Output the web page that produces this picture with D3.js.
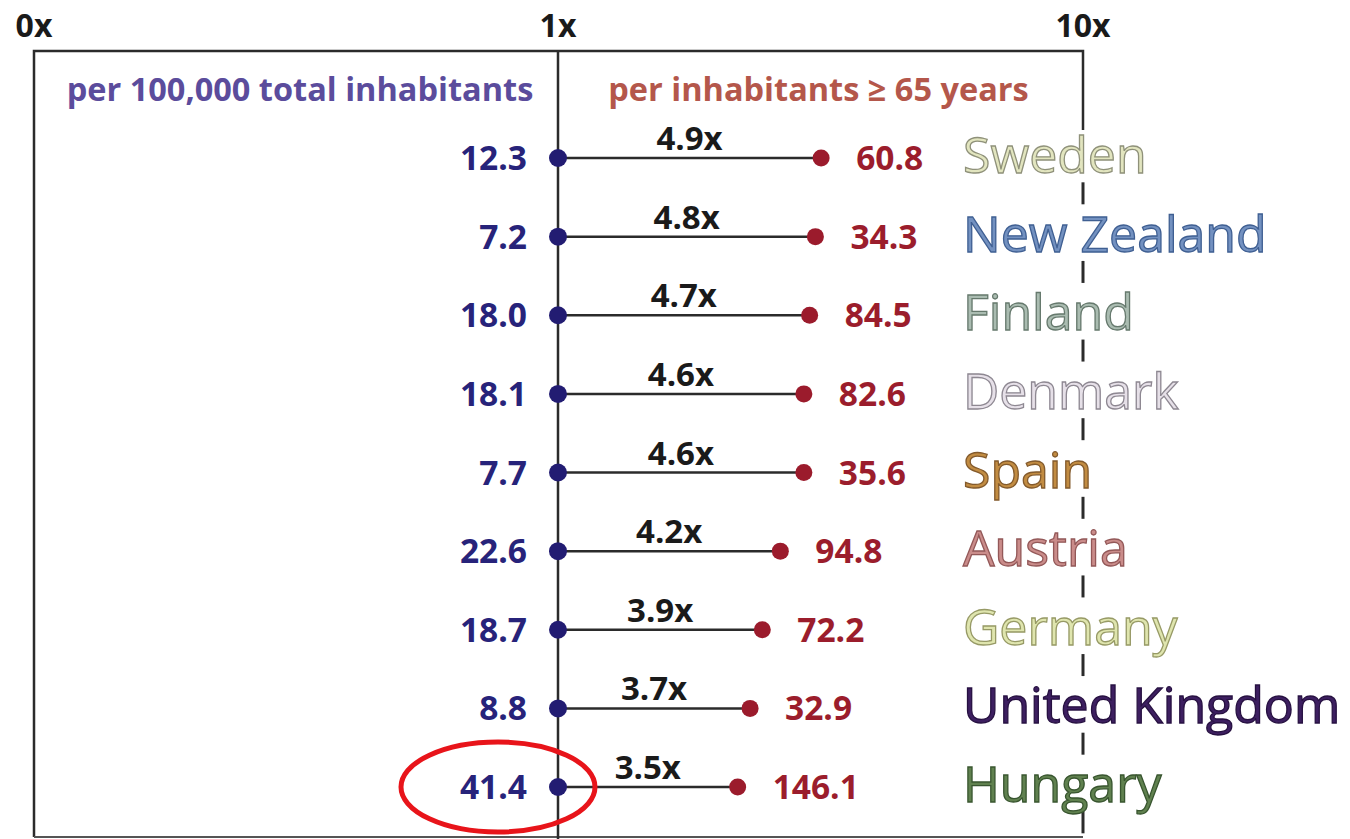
<!DOCTYPE html>
<html>
<head>
<meta charset="utf-8">
<script src="https://cdn.jsdelivr.net/npm/d3@7"></script>
<style>
  body { margin: 0; background: #fff; }
  svg { display: block; font-family: "Open Sans", sans-serif; }
</style>
</head>
<body>
<div id="plot"></div>
<script>
// values, top to bottom
const countries = ["Sweden", "New Zealand", "Finland", "Denmark", "Spain", "Austria", "Germany", "United Kingdom", "Hungary"];
const perTotal = ["12.3", "7.2", "18.0", "18.1", "7.7", "22.6", "18.7", "8.8", "41.4"];
const perElderly = ["60.8", "34.3", "84.5", "82.6", "35.6", "94.8", "72.2", "32.9", "146.1"];
const ratios = [4.9, 4.8, 4.7, 4.6, 4.6, 4.2, 3.9, 3.7, 3.5];
const countryFill = ["#e2e5bf", "#7391c0", "#aabcb1", "#e6e0e8", "#c28c42", "#ca8c8a", "#dfe5ae", "#3d1f60", "#60814f"];
const countryStroke = ["#8f917a", "#3f5f92", "#66796d", "#8e8892", "#835a2c", "#935858", "#979a66", "#261040", "#38552f"];
const axisTicks = [0, 1, 10];
const axisLabels = ["0x", "1x", "10x"];

const width = 1350, height = 839;
const margin = {top: 51, left: 34, right: 267, bottom: 2};

const svg = d3.select("#plot").append("svg")
  .attr("width", width)
  .attr("height", height);

// the frame: 0x .. 1x is linear, 1x .. 10x is squeezed
const xFrame = d3.scaleLinear(axisTicks, [margin.left, 558, width - margin.right]);
const xRatio = d3.scalePow().exponent(0.73).domain([1, 10]).range([xFrame(1), xFrame(10)]);
const y = d3.scalePoint(countries, [158, 787]);
const step = y.step();

const ink = "#2b2b2b";

// box: top, left, bottom, 1x line
svg.append("path")
  .attr("d", `M${xFrame(0)},${height - margin.bottom} V${margin.top} H${xFrame(10)} V130`)
  .attr("fill", "none").attr("stroke", ink).attr("stroke-width", 2.5);
svg.append("line")
  .attr("x1", xFrame(0)).attr("x2", xFrame(10))
  .attr("y1", height - margin.bottom).attr("y2", height - margin.bottom)
  .attr("stroke", "#555").attr("stroke-width", 2);
svg.append("line")
  .attr("x1", xFrame(1)).attr("x2", xFrame(1))
  .attr("y1", margin.top).attr("y2", height)
  .attr("stroke", ink).attr("stroke-width", 2.5);

// dashed part of the 10x line, one dash between each pair of rows
svg.append("g").selectAll("line")
  .data(countries)
  .join("line")
    .attr("x1", xFrame(10)).attr("x2", xFrame(10))
    .attr("y1", d => y(d) + step / 2 - 15)
    .attr("y2", d => y(d) + step / 2 + 7)
    .attr("stroke", ink).attr("stroke-width", 3);

// axis labels
svg.append("g").selectAll("text")
  .data(axisTicks)
  .join("text")
    .attr("x", d => xFrame(d))
    .attr("y", 37)
    .attr("text-anchor", "middle")
    .attr("font-size", 32).attr("font-weight", 700).attr("fill", "#1a1a1a")
    .text((d, i) => axisLabels[i]);

// column headers
svg.append("text")
  .attr("x", (xFrame(0) + xFrame(1)) / 2 + 4).attr("y", 101)
  .attr("text-anchor", "middle")
  .attr("font-size", 32.5).attr("font-weight", 700).attr("fill", "#5b4c9c")
  .text("per 100,000 total inhabitants");
svg.append("text")
  .attr("x", (xFrame(1) + xFrame(10)) / 2 - 2).attr("y", 101)
  .attr("text-anchor", "middle")
  .attr("font-size", 32.5).attr("font-weight", 700).attr("fill", "#b4574b")
  .text("per inhabitants \u2265 65 years");

const rows = svg.append("g").selectAll("g")
  .data(countries)
  .join("g")
    .attr("transform", d => `translate(0,${y(d)})`);

rows.append("line")
  .attr("x1", xFrame(1))
  .attr("x2", (d, i) => xRatio(ratios[i]))
  .attr("stroke", ink).attr("stroke-width", 2.5);

rows.append("circle")
  .attr("cx", xFrame(1)).attr("r", 9)
  .attr("fill", "#221c72");

rows.append("circle")
  .attr("cx", (d, i) => xRatio(ratios[i])).attr("r", 8.5)
  .attr("fill", "#9b1b2c");

rows.append("text")
  .attr("x", (d, i) => (xFrame(1) + xRatio(ratios[i])) / 2)
  .attr("y", -8)
  .attr("text-anchor", "middle")
  .attr("font-size", 33).attr("font-weight", 700).attr("fill", "#1a1a1a")
  .text((d, i) => ratios[i].toFixed(1) + "x");

rows.append("text")
  .attr("x", xFrame(1) - 31)
  .attr("y", 12)
  .attr("text-anchor", "end")
  .attr("font-size", 33.5).attr("font-weight", 700).attr("fill", "#27237a")
  .text((d, i) => perTotal[i]);

rows.append("text")
  .attr("x", (d, i) => xRatio(ratios[i]) + 35)
  .attr("y", 12)
  .attr("text-anchor", "start")
  .attr("font-size", 33.5).attr("font-weight", 700).attr("fill", "#9b1d2c")
  .text((d, i) => perElderly[i]);

rows.append("text")
  .attr("x", 963)
  .attr("y", 15)
  .attr("font-size", 50).attr("font-weight", 500)
  .attr("fill", (d, i) => countryFill[i])
  .attr("stroke", (d, i) => countryStroke[i])
  .attr("stroke-width", 1.3)
  .text(d => d);

// highlight ring round Hungary
const last = countries[countries.length - 1];
svg.append("ellipse")
  .attr("cx", 498).attr("cy", y(last))
  .attr("rx", 97).attr("ry", 45)
  .attr("fill", "none").attr("stroke", "#e8141a").attr("stroke-width", 5);
</script>
</body>
</html>
